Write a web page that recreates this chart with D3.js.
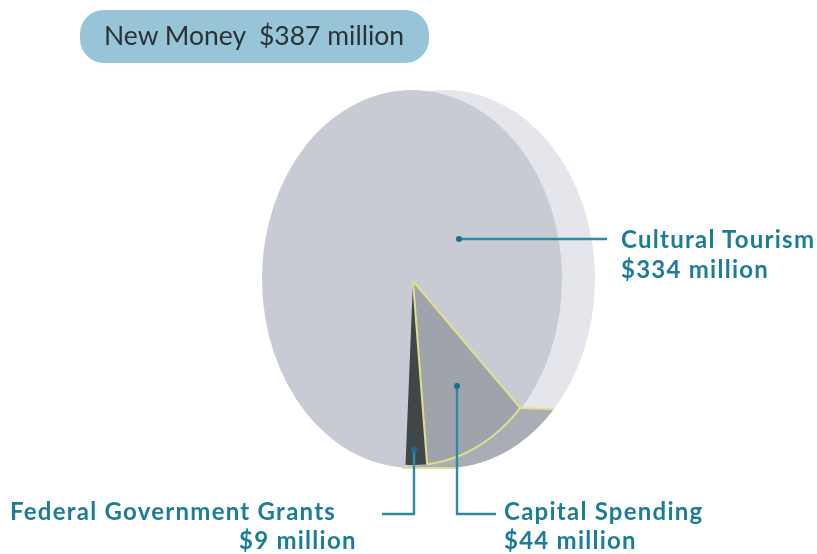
<!DOCTYPE html>
<html><head><meta charset="utf-8">
<script src="https://cdn.jsdelivr.net/npm/d3@7"></script>
<style>html,body{margin:0;padding:0;background:#fff}svg{display:block}</style>
</head><body><svg id="c" width="817" height="554"></svg>
<script>
const categories = ["Capital Spending", "Federal Government Grants", "Cultural Tourism"];
const values = [44, 9, 334];
const valueLabels = ["$44 million", "$9 million", "$334 million"];
const totalLabel = "New Money  $387 million";
const sliceColors = ["#9fa3ac", "#3f4749", "#c8cbd3"];

const root = d3.select("#c");
root.append("defs").append("filter").attr("id","soft").append("feGaussianBlur").attr("stdDeviation",0.4);
const svg = root.append("g").attr("filter","url(#soft)");
const deg = Math.PI / 180;
const teal = "#1d7d98", line = "#2f8ba3", yellow = "#e0e08c";

// pill
svg.append("rect").attr("x",80).attr("y",10).attr("width",349).attr("height",53).attr("rx",24).attr("fill","#97c4d6");
svg.append("text").attr("x",104).attr("y",45).attr("font-family","Lato").attr("font-size",26.5)
  .attr("fill","#2b3236").style("white-space","pre").text(totalLabel);

// pie geometry: unit-circle coordinates projected onto an ellipse
const x = d3.scaleLinear().domain([-1,1]).range([262,562]);
const y = d3.scaleLinear().domain([-1,1]).range([90,468]);
const depth = 33;
const sx = d3.scaleLinear().domain([-1,1]).range([265,561]);
const sy = d3.scaleLinear().domain([-1,1]).range([97,465]);

const pie = d3.pie().sort(null).value(d=>d).startAngle(133.6*deg).endAngle((133.6+360)*deg);
const arcs = pie(values);
const unit = a => [Math.sin(a), -Math.cos(a)];
const pt = a => { const [u,v]=unit(a); return [sx(u), sy(v)]; };
const outer = a => { const [u,v]=unit(a); return [x(u)+depth, y(v)]; };
const range = (a,b,n=60) => d3.range(n+1).map(i=>a+(b-a)*i/n);
const lineGen = d3.line();

// back ellipse (extrusion) and front face
svg.append("ellipse").attr("cx",x(0)+depth).attr("cy",y(0)).attr("rx",(x(1)-x(-1))/2).attr("ry",(y(1)-y(-1))/2).attr("fill","#e5e6eb");
svg.append("ellipse").attr("cx",x(0)).attr("cy",y(0)).attr("rx",(x(1)-x(-1))/2).attr("ry",(y(1)-y(-1))/2).attr("fill",sliceColors[2]);

// side wall beneath capital slice
const cap = arcs[0];
const frontSide = range(cap.startAngle, cap.endAngle).map(pt);
const backSide = range(180*deg, cap.startAngle).map(outer);
svg.append("path").attr("d",lineGen(frontSide.concat([[x(0)-10,y(1)]],backSide))+"Z").attr("fill","#a9adb5");

// slice faces
const cen = [sx(0), sy(0)];
arcs.slice(0,2).forEach((d,i)=>{
  const p = [cen].concat(range(d.startAngle,d.endAngle).map(pt));
  svg.append("path").attr("d",lineGen(p)+"Z").attr("fill",sliceColors[i]);
});

// yellow edges
const e = p=>svg.append("path").attr("d",lineGen(p)).attr("fill","none").attr("stroke",yellow).attr("stroke-width",2);
e([cen, pt(cap.startAngle)]);
e([cen, pt(cap.endAngle)]);
e(frontSide);
e([pt(cap.startAngle), outer(cap.startAngle)]);
e([[x(0)-10,y(1)],[x(0)+43,y(1)]]);

// leaders
const leader = p=>svg.append("path").attr("d",lineGen(p)).attr("fill","none").attr("stroke",line).attr("stroke-width",2.4);
const dot = (a,b)=>svg.append("circle").attr("cx",a).attr("cy",b).attr("r",3).attr("fill","#12708c");
leader([[459,239],[607,239]]); dot(459,239);
leader([[457,386],[457,514],[496,514]]); dot(457,386);
leader([[414,450],[414,514],[382,514]]); dot(414,450);

// labels
const label = (t,a,b)=>svg.append("text").attr("x",a).attr("y",b).attr("font-family","Lato").attr("font-weight",700)
  .attr("font-size",24).attr("letter-spacing",1.25).attr("fill",teal).text(t);
label(categories[2],621,248); label(valueLabels[2],621,278);
label(categories[0],504,520); label(valueLabels[0],504,548.7);
label(categories[1],10,520); label(valueLabels[1],239,548.7);
</script></body></html>
